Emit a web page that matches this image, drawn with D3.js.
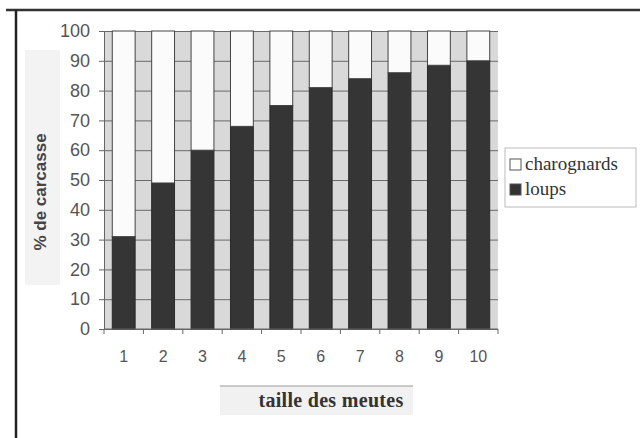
<!DOCTYPE html>
<html>
<head>
<meta charset="utf-8">
<script src="https://cdn.jsdelivr.net/npm/d3@7"></script>
<style>
  body { margin: 0; background: #fff; }
</style>
</head>
<body>
<div id="chart"></div>
<script>
// pack size categories
const categories = [1, 2, 3, 4, 5, 6, 7, 8, 9, 10]
// share of carcass eaten by wolves (%)
const loups = [31, 49, 60, 68, 75, 81, 84, 86, 88.5, 90]
// remainder eaten by scavengers
const charognards = loups.map(v => 100 - v)
const yTicks = [0, 10, 20, 30, 40, 50, 60, 70, 80, 90, 100]

const width = 640
const height = 438

let svg = d3.select('#chart')
   .append('svg')
      .attr('width', width)
      .attr('height', height)

// page frame lines from the scan
svg.append('line')
   .attr('x1', 6).attr('x2', 640).attr('y1', 10).attr('y2', 10)
   .attr('stroke', '#333').attr('stroke-width', 2.5)
svg.append('line')
   .attr('x1', 16).attr('x2', 16).attr('y1', 10).attr('y2', 438)
   .attr('stroke', '#222').attr('stroke-width', 2.5)

// faint grey boxes behind the axis titles
svg.append('rect')
   .attr('x', 25).attr('y', 50).attr('width', 35).attr('height', 235)
   .attr('fill', '#f3f3f3')
svg.append('rect')
   .attr('x', 220).attr('y', 386).attr('width', 193).attr('height', 29)
   .attr('fill', '#f1f1f1')
svg.append('line')
   .attr('x1', 220).attr('x2', 413).attr('y1', 386).attr('y2', 386)
   .attr('stroke', '#999').attr('stroke-width', 1)

let plotLeft = 104, plotRight = 498, plotTop = 31, plotBottom = 329

let xScale = d3.scaleBand()
   .domain(categories)
   .range([plotLeft, plotRight])
   .paddingInner(0.42)
   .paddingOuter(0.21)

let yScale = d3.scaleLinear()
   .domain([0, 100])
   .range([plotBottom, plotTop])

// plot background
svg.append('rect')
   .attr('x', plotLeft)
   .attr('y', plotTop)
   .attr('width', plotRight - plotLeft)
   .attr('height', plotBottom - plotTop)
   .attr('fill', '#d9d9d9')

// horizontal gridlines
svg.append('g')
   .attr('transform', 'translate(' + plotLeft + ',0)')
   .style('color', '#6a6a6a')
   .call(d3.axisLeft(yScale)
      .tickValues(yTicks)
      .tickSize(-(plotRight - plotLeft))
      .tickFormat(''))
   .call(g => g.select('.domain').remove())

// wolves (bottom, dark)
svg.selectAll('.loups')
      .data(categories)
   .enter().append('rect')
      .attr('class', 'loups')
      .attr('x', d => xScale(d))
      .attr('width', xScale.bandwidth())
      .attr('y', (d, i) => yScale(loups[i]))
      .attr('height', (d, i) => yScale(0) - yScale(loups[i]))
      .attr('fill', '#353535')
      .attr('stroke', '#2a2a2a')
      .attr('stroke-width', 1)

// scavengers (top, white)
svg.selectAll('.charognards')
      .data(categories)
   .enter().append('rect')
      .attr('class', 'charognards')
      .attr('x', d => xScale(d))
      .attr('width', xScale.bandwidth())
      .attr('y', (d, i) => yScale(loups[i] + charognards[i]))
      .attr('height', (d, i) => yScale(loups[i]) - yScale(loups[i] + charognards[i]))
      .attr('fill', '#fbfbfb')
      .attr('stroke', '#444')
      .attr('stroke-width', 1)

// y axis
svg.append('g')
   .attr('transform', 'translate(' + plotLeft + ',0)')
   .style('font-size', '18px')
   .style('font-family', 'Liberation Sans, Arial, sans-serif')
   .style('color', '#666')
   .call(d3.axisLeft(yScale).tickValues(yTicks).tickSize(5).tickPadding(9))
   .call(g => g.selectAll('text').attr('fill', '#555'))

// x axis: ticks on category boundaries
let xAxis = svg.append('g')
   .attr('transform', 'translate(0,' + plotBottom + ')')
   .style('font-size', '16px')
   .style('font-family', 'Liberation Sans, Arial, sans-serif')
   .style('color', '#666')
   .call(d3.axisBottom(xScale).tickSize(0).tickPadding(22))
xAxis.selectAll('text').attr('fill', '#555')
xAxis.select('.domain').attr('d', 'M' + plotLeft + ',0H' + plotRight)
xAxis.selectAll('.boundary')
      .data(categories)
   .enter().append('line')
      .attr('class', 'boundary')
      .attr('x1', d => xScale(d) - xScale.step() * xScale.paddingInner() / 2)
      .attr('x2', d => xScale(d) - xScale.step() * xScale.paddingInner() / 2)
      .attr('y1', 0).attr('y2', 5)
      .attr('stroke', '#666')
xAxis.append('line')
   .attr('x1', plotRight).attr('x2', plotRight).attr('y1', 0).attr('y2', 5)
   .attr('stroke', '#666')

// axis titles
svg.append('text')
   .attr('transform', 'translate(46,192) rotate(-90)')
   .attr('text-anchor', 'middle')
   .style('font-family', 'Liberation Sans, Arial, sans-serif')
   .style('font-weight', 'bold')
   .style('font-size', '17px')
   .attr('fill', '#444')
   .text('% de carcasse')

svg.append('text')
   .attr('x', 331)
   .attr('y', 407)
   .attr('text-anchor', 'middle')
   .style('font-family', 'Liberation Serif, Times New Roman, serif')
   .style('font-weight', 'bold')
   .style('font-size', '20px')
   .style('letter-spacing', '0.3px')
   .attr('fill', '#333')
   .text('taille des meutes')

// legend
let legend = svg.append('g')
   .attr('transform', 'translate(505,148)')
legend.append('rect')
   .attr('width', 131).attr('height', 59)
   .attr('fill', '#fff')
   .attr('stroke', '#bbb')

let legendItems = [
   { label: 'charognards', fill: '#fff' },
   { label: 'loups', fill: '#333' }
]
legend.selectAll('.item')
      .data(legendItems)
   .enter().append('g')
      .attr('class', 'item')
      .attr('transform', (d, i) => 'translate(5,' + (11 + i * 25) + ')')
      .each(function(d) {
         let g = d3.select(this)
         g.append('rect')
            .attr('width', 11).attr('height', 11)
            .attr('fill', d.fill)
            .attr('stroke', '#555')
         g.append('text')
            .attr('x', 15).attr('y', 11)
            .style('font-family', 'Liberation Serif, Times New Roman, serif')
            .style('font-size', '19px')
            .attr('fill', '#333')
            .text(d.label)
      })
</script>
</body>
</html>
